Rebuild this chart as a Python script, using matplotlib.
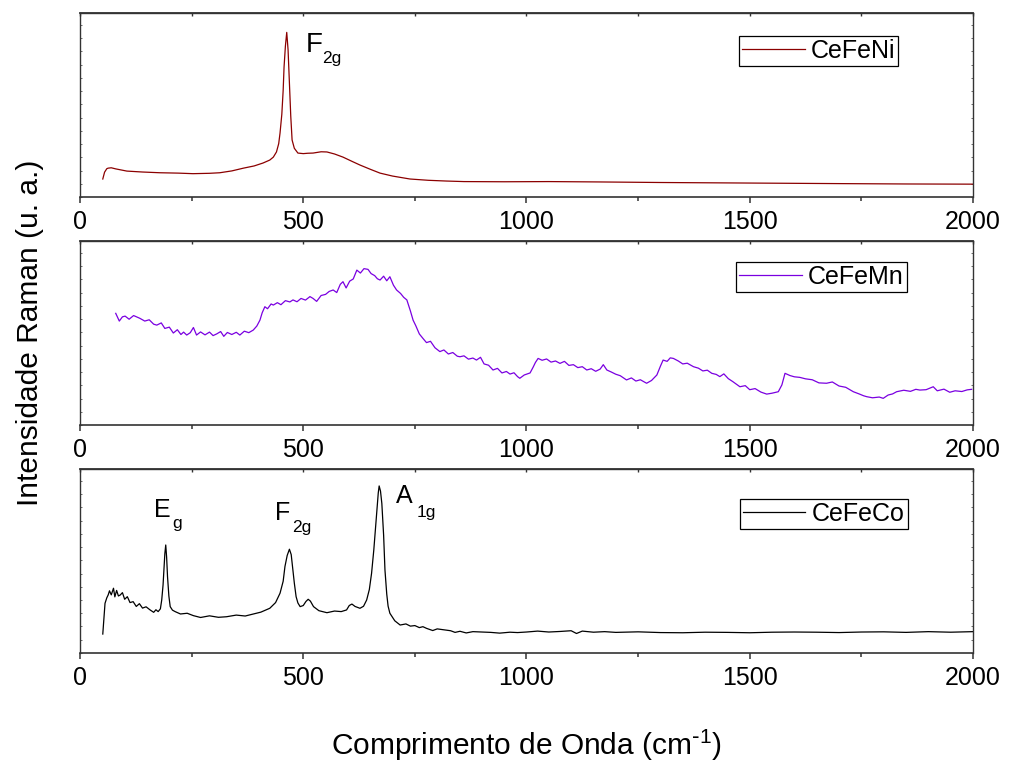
"""
Espectros Raman de CeFeNi, CeFeMn e CeFeCo (tres paineis empilhados).
"""
import matplotlib
matplotlib.use("Agg")
import matplotlib.pyplot as plt
from matplotlib.ticker import MultipleLocator

plt.rcParams['font.family'] = ['Liberation Sans', 'DejaVu Sans']
plt.rcParams['mathtext.default'] = 'regular'

# valores (intensidade normalizada 0-100 em cada painel)
ni_x = [51, 55, 60, 63, 70, 80, 105, 140, 179, 220, 253, 290, 313, 340, 366, 390,
        410, 425, 433, 440, 445, 448, 452, 455, 457, 460, 463, 466, 469, 472, 475,
        480, 488, 500, 510, 522, 540, 553, 570, 589, 610, 627, 650, 672, 700, 739,
        780, 820, 860, 950, 1050, 1164, 1300, 1500, 1700, 1850, 2000]
ni_y = [9.8, 13.5, 15.4, 15.7, 15.9, 15.3, 14.1, 13.6, 13.2, 13.0, 12.7, 12.9, 13.2,
        14.2, 15.7, 16.9, 18.5, 20.1, 21.7, 24.5, 29, 34.8, 45, 58, 70.7, 82, 89.5,
        80, 62, 44, 31, 26.5, 23.9, 23.6, 23.8, 23.9, 24.6, 24.5, 23.4, 21.7, 19.3,
        17.4, 15.1, 13, 11.4, 9.8, 9.1, 8.7, 8.4, 8.3, 8.4, 8.2, 7.9, 7.6, 7.3, 7.1, 7]

mn_x = [80, 88, 95, 101, 110, 120, 134, 145, 155, 165, 172, 182, 190, 200, 209, 218,
        226, 232, 239, 247, 254, 261, 270, 280, 290, 298, 306, 315, 322, 330, 340,
        350, 358, 368, 378, 388, 396, 403, 408, 414, 420, 428, 433, 442, 450, 460,
        470, 477, 486, 495, 505, 515, 522, 530, 540, 550, 558, 567, 575, 583, 589,
        596, 604, 612, 620, 628, 636, 645, 652, 660, 666, 672, 680, 687, 694, 702,
        709, 718, 725, 732, 740, 746, 752, 760, 768, 776, 785, 795, 806, 815, 825,
        835, 845, 851, 860, 870, 880, 888, 897, 905, 915, 925, 935, 945, 955, 963,
        972, 980, 985, 995, 1008, 1015, 1020, 1026, 1035, 1045, 1055, 1065, 1075,
        1085, 1095, 1105, 1115, 1125, 1135, 1145, 1155, 1165, 1172, 1180, 1190,
        1200, 1210, 1224, 1235, 1245, 1255, 1269, 1280, 1292, 1300, 1306, 1315,
        1322, 1329, 1340, 1350, 1360, 1374, 1385, 1395, 1405, 1415, 1425, 1433,
        1442, 1452, 1462, 1478, 1490, 1500, 1512, 1525, 1538, 1550, 1564, 1572,
        1579, 1590, 1600, 1612, 1625, 1640, 1655, 1672, 1685, 1700, 1715, 1732,
        1745, 1755, 1762, 1775, 1790, 1799, 1810, 1820, 1829, 1845, 1860, 1872,
        1881, 1895, 1905, 1911, 1920, 1935, 1948, 1960, 1975, 1987, 1997]
mn_y = [60.7, 56.5, 58.8, 59.2, 57.5, 59.5, 58, 56.5, 57.2, 54.8, 54.3, 55.5, 52.5,
        53.2, 50, 51.8, 49.2, 50.5, 48.9, 50.2, 53, 48.9, 50.6, 49, 50.5, 48.6,
        49.5, 50.8, 48.2, 50.3, 49.2, 50.4, 48.9, 51, 50.2, 51.6, 53.8, 57, 61,
        64.3, 63.2, 65.8, 65.2, 66.5, 65.4, 67.6, 66.9, 68, 67, 68.8, 67.9, 69.8,
        68.8, 67.2, 70.4, 71, 72.6, 73.4, 72, 76.5, 77.9, 74.5, 78.2, 79.4, 84.2,
        82.6, 85, 84.6, 82.3, 81.2, 79.5, 78.8, 80.9, 78.4, 80.6, 76, 73.4, 71.5,
        69.4, 68, 62, 57, 54, 49.5, 47.1, 44.8, 45.5, 42, 39.9, 40.8, 38.6, 39.4,
        37.4, 37.1, 37.6, 35.8, 36.4, 35.3, 36.8, 33.2, 32.5, 29.9, 30.8, 28.3,
        29.1, 27.7, 28.4, 26.3, 25.4, 27.2, 28.3, 31.5, 34, 36.2, 35.2, 35.9, 34.2,
        34.8, 33.5, 34.6, 32.4, 32.8, 31.2, 31.7, 29.9, 30.6, 29.2, 30.4, 32.8,
        29.9, 28.8, 27.6, 26.8, 24.5, 25.6, 23.9, 24.6, 22.7, 24.2, 27.2, 32, 35.3,
        34.6, 36.5, 36.2, 34.8, 33.2, 33.6, 31.7, 30.9, 29.4, 29.8, 28.1, 27.5,
        26.3, 27.8, 25.2, 23.6, 20.8, 21.4, 19.2, 19.8, 17.9, 16.8, 17.3, 18.1,
        21.8, 28.1, 26.9, 26.2, 25.9, 25.1, 24.6, 22.9, 22.7, 23.4, 21.2, 20.5,
        18.1, 16.9, 15.9, 15.4, 14.8, 15.2, 14.5, 16.3, 16.9, 18.1, 18.9, 18.3,
        19.4, 19, 19.2, 20.2, 20.8, 18.6, 19.5, 17.8, 18.6, 18.2, 19.1, 19.4]

co_x = [51, 54, 56, 60, 63, 66, 70, 75, 78, 82, 86, 90, 95, 100, 106, 112, 119, 126,
        133, 140, 148, 157, 165, 170, 175, 180, 183, 186, 188, 190, 192, 194, 196,
        199, 202, 207, 213, 225, 240, 254, 270, 290, 310, 328, 350, 370, 388, 405,
        425, 438, 448, 455, 459, 464, 469, 473, 476, 480, 484, 488, 493, 500, 506,
        511, 516, 523, 535, 553, 570, 585, 597, 603, 609, 616, 627, 635, 642, 648,
        653, 658, 662, 665, 668, 670, 673, 676, 680, 683, 687, 690, 694, 705, 717,
        730, 740, 750, 760, 768, 776, 790, 800, 815, 830, 840, 851, 865, 880, 900,
        920, 940, 963, 980, 1000, 1025, 1050, 1075, 1100, 1112, 1125, 1150, 1175,
        1200, 1250, 1300, 1350, 1400, 1450, 1500, 1550, 1600, 1650, 1700, 1750,
        1800, 1850, 1900, 1950, 2000]
co_y = [10.3, 20, 27, 30, 31.5, 33.8, 31.6, 35.2, 30.5, 34, 31, 31.5, 32.8, 29.2,
        30.6, 27.4, 27.9, 25.3, 26.8, 24.4, 25.1, 23.4, 22.1, 23.5, 22.5, 24, 28.8,
        37, 45.1, 54, 58.7, 52, 41.5, 31, 25.2, 23.3, 22.5, 21.2, 21.6, 20.3, 19.3,
        20.2, 19.4, 19.7, 20.6, 20.1, 21.2, 22.2, 24.3, 27.4, 32.5, 39, 47, 53,
        56.4, 53.5, 47, 38, 30.6, 27.2, 25.2, 25.8, 28, 29.2, 28.2, 25.2, 23, 21.9,
        22.8, 22.5, 23.4, 25.8, 26.6, 25.3, 24.3, 25.4, 28.8, 34.5, 43.3, 56, 68,
        77.7, 87, 90.8, 88, 81.3, 64, 45.1, 32, 25.5, 21.6, 17.5, 15.2,
        15.8, 14.6, 14.9, 13.8, 14.3, 13.4, 12.2, 13.1, 12.6, 12.1, 11.2, 11.8,
        10.9, 11.6, 11.4, 11.2, 10.8, 11.3, 11.1, 11.4, 11.9, 11.4, 11.7, 12.1,
        10.6, 11.9, 11.3, 11.6, 11.2, 11.5, 11.1, 11.0, 11.3, 11.2, 11.0, 11.3,
        11.4, 11.3, 11.1, 11.4, 11.5, 11.2, 11.6, 11.3, 11.6]

amostras = ["CeFeNi", "CeFeMn", "CeFeCo"]
cores = ["#8b0000", "#7a00e0", "#000000"]

fig = plt.figure(figsize=(10.09, 7.64), dpi=100)
esq, larg, alt = 0.0793, 0.885, 0.2408
fundos = [0.7421, 0.4437, 0.1453]
legendas = [(0.738, 0.875), (0.735, 0.8875), (0.739, 0.837)]
dados = [(ni_x, ni_y), (mn_x, mn_y), (co_x, co_y)]

eixos = []
for i in range(3):
    ax = fig.add_axes([esq, fundos[i], larg, alt])
    x, y = dados[i]
    ax.plot(x, y, color=cores[i], lw=0.9, label=amostras[i])
    ax.set_xlim(0, 2000)
    ax.set_ylim(0, 100)
    ax.xaxis.set_major_locator(MultipleLocator(500))
    ax.xaxis.set_minor_locator(MultipleLocator(250))
    ax.yaxis.set_major_locator(MultipleLocator(7.2))
    ax.tick_params(axis='x', which='major', direction='out', length=4.5, width=1.1,
                   labelsize=18, pad=5, color='#333333')
    ax.tick_params(axis='x', which='minor', direction='out', length=3, width=1.1,
                   color='#333333')
    ax.tick_params(axis='y', which='both', left=True, right=True, direction='in',
                   length=1.5, width=0.6, labelleft=False, color='#555555')
    # marcas pequenas para dentro no topo
    topo = ax.secondary_xaxis('top')
    topo.xaxis.set_major_locator(MultipleLocator(250))
    topo.tick_params(direction='in', length=2, width=1, labeltop=False, color='#333333')
    topo.spines['top'].set_color('#333333')
    topo.spines['top'].set_linewidth(1.3)
    for s in ax.spines.values():
        s.set_color('#333333')
        s.set_linewidth(1.0)
    ax.spines['bottom'].set_linewidth(1.2)
    leg = ax.legend(loc='upper left', bbox_to_anchor=legendas[i], borderaxespad=0,
                    fontsize=18, frameon=True, fancybox=False, handlelength=2.5,
                    handletextpad=0.25, borderpad=0.12, framealpha=1)
    leg.get_frame().set_edgecolor('black')
    leg.get_frame().set_linewidth(0.9)
    eixos.append(ax)

# rotulos dos modos vibracionais
eixos[0].text(0.253, 0.790, "F", transform=eixos[0].transAxes, fontsize=20, va='baseline')
eixos[0].text(0.271, 0.727, "2g", transform=eixos[0].transAxes, fontsize=12.5, va='baseline')
eixos[2].text(0.083, 0.741, "E", transform=eixos[2].transAxes, fontsize=18, va='baseline')
eixos[2].text(0.103, 0.679, "g", transform=eixos[2].transAxes, fontsize=12.5, va='baseline')
eixos[2].text(0.2185, 0.723, "F", transform=eixos[2].transAxes, fontsize=18, va='baseline')
eixos[2].text(0.237, 0.659, "2g", transform=eixos[2].transAxes, fontsize=12.5, va='baseline')
eixos[2].text(0.354, 0.814, "A", transform=eixos[2].transAxes, fontsize=18, va='baseline')
eixos[2].text(0.377, 0.741, "1g", transform=eixos[2].transAxes, fontsize=12.5, va='baseline')

fig.text(0.03, 0.564, "Intensidade Raman (u. a.)", rotation=90, fontsize=21.5,
         ha='center', va='center')
fig.text(0.522, 0.024, r"Comprimento de Onda (cm$^{\text{-}1}$)", fontsize=21.5,
         ha='center', va='center')

fig.savefig("out.png", dpi=100)
